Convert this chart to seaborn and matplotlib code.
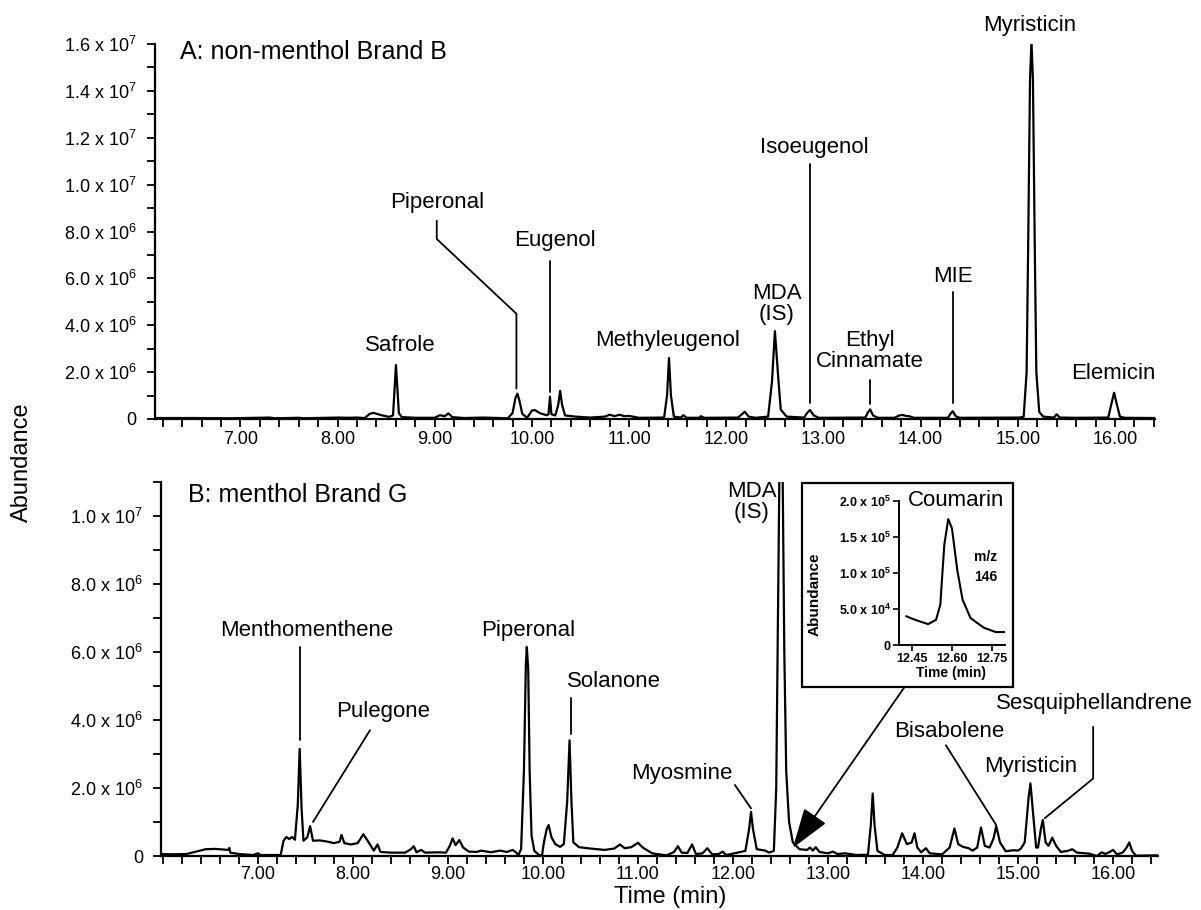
import pandas as pd
import seaborn as sns
import matplotlib.pyplot as plt
from matplotlib.patches import Rectangle
from matplotlib.ticker import MultipleLocator

sns.set_style("ticks")
plt.rcParams['font.family'] = ['Liberation Sans', 'DejaVu Sans']
plt.rcParams['mathtext.fontset'] = 'custom'
plt.rcParams['mathtext.rm'] = 'Liberation Sans'
plt.rcParams['mathtext.it'] = 'Liberation Sans:italic'
plt.rcParams['mathtext.bf'] = 'Liberation Sans:bold'
for key in ('text.color', 'axes.labelcolor', 'xtick.color', 'ytick.color', 'axes.edgecolor'):
    plt.rcParams[key] = 'black'

# --- panel A: non-menthol Brand B (time in min, abundance) ---
time_a = [6.12, 6.5, 6.9, 7.3, 7.35, 7.6, 7.65, 8.0, 8.1, 8.2, 8.28, 8.33, 8.37, 8.45, 8.53,
          8.57, 8.585, 8.60, 8.615, 8.63, 8.66, 8.8, 9.0, 9.05, 9.08, 9.10, 9.14, 9.18, 9.3, 9.5,
          9.75, 9.80, 9.83, 9.85, 9.87, 9.90, 9.95, 10.0, 10.03, 10.08, 10.15, 10.17, 10.185, 10.20,
          10.24, 10.27, 10.29, 10.31, 10.34, 10.45, 10.6, 10.75, 10.8, 10.85, 10.9, 10.95, 11.0,
          11.1, 11.36, 11.39, 11.41, 11.43, 11.46, 11.53, 11.56, 11.59, 11.72, 11.74, 11.77,
          12.12, 12.16, 12.19, 12.23, 12.3, 12.43, 12.47, 12.50, 12.53, 12.56, 12.62,
          12.8, 12.83, 12.86, 12.90, 12.95, 13.43, 13.46, 13.48, 13.51, 13.56,
          13.73, 13.78, 13.81, 13.85, 13.88, 13.93, 14.28, 14.31, 14.33, 14.36, 14.40,
          15.02, 15.06, 15.09, 15.105, 15.125, 15.14, 15.155, 15.175, 15.19, 15.22, 15.26,
          15.37, 15.40, 15.43, 15.6, 15.93, 15.96, 15.99, 16.02, 16.05, 16.1, 16.41]
abund_a = [4e4, 4e4, 3e4, 6e4, 3e4, 5e4, 3e4, 6e4, 5e4, 6e4, 4e4, 2.2e5, 2.6e5, 1.6e5, 9e4,
           1.5e5, 1.2e6, 2.3e6, 1.3e6, 2.5e5, 8e4, 5e4, 5e4, 1.6e5, 1.4e5, 1.1e5, 2.4e5, 8e4, 4e4, 6e4,
           3e4, 2.5e5, 9e5, 1.08e6, 8e5, 2.2e5, 5e4, 3.6e5, 3.8e5, 2.5e5, 1.6e5, 2e5, 9.5e5, 2e5,
           1.5e5, 6e5, 1.2e6, 6e5, 1.5e5, 1e5, 6e4, 1e5, 1.8e5, 1.2e5, 1.8e5, 1.2e5, 1.3e5,
           5e4, 6e4, 1.0e6, 2.6e6, 1.0e6, 1e5, 6e4, 1.6e5, 5e4, 5e4, 1.2e5, 5e4,
           6e4, 2e5, 3.1e5, 1e5, 5e4, 1e5, 1.6e6, 3.75e6, 2.0e6, 4e5, 1e5,
           6e4, 2.5e5, 3.8e5, 1.5e5, 5e4, 6e4, 3e5, 4.1e5, 1.5e5, 5e4,
           5e4, 1.5e5, 1.7e5, 1.3e5, 1.2e5, 5e4, 5e4, 2.4e5, 3.3e5, 1.2e5, 5e4,
           6e4, 1e5, 2.0e6, 7e6, 1.45e7, 1.61e7, 1.45e7, 7e6, 2.0e6, 3e5, 1e5,
           6e4, 2e5, 6e4, 5e4, 6e4, 6e5, 1.12e6, 6e5, 1e5, 5e4, 4e4]

# --- panel B: menthol Brand G ---
time_b = [5.97, 6.1, 6.25, 6.35, 6.45, 6.55, 6.69, 6.70, 6.71, 6.8, 6.95, 7.0, 7.03, 7.24,
          7.27, 7.30, 7.33, 7.36, 7.39, 7.42, 7.44, 7.46, 7.48, 7.52, 7.55, 7.58, 7.65, 7.72,
          7.80, 7.86, 7.88, 7.91, 7.98, 8.05, 8.11, 8.16, 8.22, 8.26, 8.29, 8.4, 8.55, 8.61,
          8.64, 8.67, 8.72, 8.76, 8.9, 8.98, 9.02, 9.05, 9.08, 9.12, 9.16, 9.22, 9.3, 9.35,
          9.45, 9.55, 9.62, 9.68, 9.72, 9.74, 9.77, 9.80, 9.82, 9.83, 9.845, 9.86, 9.88, 9.91,
          9.96, 9.99, 10.01, 10.04, 10.06, 10.09, 10.13, 10.18, 10.22, 10.255, 10.28, 10.30,
          10.32, 10.38, 10.5, 10.65, 10.75, 10.81, 10.86, 10.93, 11.0, 11.05, 11.15, 11.3,
          11.38, 11.42, 11.46, 11.52, 11.57, 11.61, 11.68, 11.73, 11.78, 11.85, 11.89, 11.93,
          12.05, 12.13, 12.17, 12.19, 12.21, 12.25, 12.34, 12.38, 12.43, 12.455, 12.48, 12.50,
          12.52, 12.54, 12.56, 12.59, 12.63, 12.70, 12.78, 12.81, 12.84, 12.87, 12.91, 13.0,
          13.05, 13.1, 13.18, 13.3, 13.42, 13.45, 13.47, 13.49, 13.52, 13.6, 13.68, 13.73,
          13.78, 13.83, 13.88, 13.91, 13.94, 13.98, 14.03, 14.07, 14.2, 14.28, 14.33, 14.37,
          14.42, 14.48, 14.52, 14.57, 14.61, 14.65, 14.70, 14.74, 14.77, 14.81, 14.87, 14.95,
          15.0, 15.03, 15.07, 15.11, 15.13, 15.15, 15.19, 15.21, 15.24, 15.26, 15.29, 15.32,
          15.36, 15.40, 15.45, 15.52, 15.57, 15.62, 15.75, 15.83, 15.88, 15.92, 15.97, 16.0,
          16.04, 16.1, 16.14, 16.17, 16.20, 16.24, 16.47]
abund_b = [6e4, 5e4, 6e4, 1.3e5, 2.0e5, 2.1e5, 1.8e5, 2.4e5, 1.0e5, 6e4, 3e4, 8e4, 3e4, 3e4,
           4.5e5, 5.6e5, 5.0e5, 5.6e5, 4.8e5, 1.5e6, 3.15e6, 1.4e6, 4.5e5, 5.5e5, 8.8e5, 4.5e5, 4.6e5, 4.3e5,
           3.8e5, 4.2e5, 6.2e5, 3.8e5, 3.4e5, 3.8e5, 6.4e5, 4.3e5, 1.6e5, 3.4e5, 1.2e5, 1.0e5, 1.0e5, 2.0e5,
           2.9e5, 1.1e5, 1.8e5, 1.0e5, 1.1e5, 1.0e5, 3e5, 5.2e5, 3.2e5, 4.7e5, 2.5e5, 1.3e5, 1.2e5, 1.6e5,
           1.1e5, 1.6e5, 1.2e5, 1.8e5, 1.0e5, 2e4, 2e5, 2.5e6, 5.6e6, 6.15e6, 5.5e6, 2.5e6, 6e5, 1.5e5,
           3e4, 1e4, 4e5, 8e5, 9.1e5, 5.5e5, 3.5e5, 2.7e5, 3.5e5, 1.6e6, 3.4e6, 1.6e6,
           4e5, 2.6e5, 2.2e5, 1.8e5, 2.2e5, 3.4e5, 2.3e5, 2.6e5, 3.9e5, 2.5e5, 8e4, 2e4,
           1.2e5, 2.9e5, 1.0e5, 9e4, 3.4e5, 6e4, 8e4, 2.3e5, 5e4, 6e4, 1.3e5, 3e4,
           1.0e5, 1.5e5, 8e5, 1.3e6, 8e5, 2e5, 1.6e5, 1.0e5, 1.5e5, 2e6, 9e6, 1.45e7,
           1.2e7, 6e6, 2.5e6, 1.0e6, 4e5, 2e5, 1.8e5, 2.5e5, 1.6e5, 2.6e5, 1.2e5, 8e4,
           1.3e5, 6e4, 8e4, 3e4, 4e4, 9e5, 1.84e6, 9e5, 1.5e5, 3e4, 3e4, 2.5e5,
           6.7e5, 3.5e5, 4e5, 6.7e5, 2.5e5, 1.1e5, 2.3e5, 8e4, 5e4, 2.5e5, 8.1e5, 3.5e5,
           2.7e5, 2.3e5, 1.6e5, 2.5e5, 8.4e5, 3e5, 2.5e5, 5e5, 8.8e5, 4e5, 1.4e5, 1.7e5,
           1.6e5, 2.2e5, 4e5, 1.7e6, 2.14e6, 1.5e6, 2.5e5, 2.5e5, 8e5, 1.06e6, 4e5, 3e5,
           5.4e5, 3e5, 1.2e5, 1.5e5, 2.0e5, 1.0e5, 7e4, 0, 1.1e5, 6e4, 1.3e5, 1.8e5,
           5e4, 1.0e5, 2.4e5, 4e5, 1.5e5, 1e4, 2e4]

# --- inset: coumarin, m/z 146 ---
time_c = [12.427, 12.461, 12.51, 12.54, 12.556, 12.571, 12.586, 12.60, 12.62, 12.64,
          12.67, 12.72, 12.765, 12.80]
abund_c = [4.0e4, 3.5e4, 2.9e4, 3.5e4, 5.6e4, 1.39e5, 1.75e5, 1.62e5, 1.04e5, 6.3e4,
           3.75e4, 2.4e4, 1.8e4, 1.8e4]

yticks_a = [0, 2e6, 4e6, 6e6, 8e6, 1e7, 1.2e7, 1.4e7, 1.6e7]
ylabels_a = ['0', r'2.0 x 10$^{6}$', r'4.0 x 10$^{6}$', r'6.0 x 10$^{6}$', r'8.0 x 10$^{6}$',
             r'1.0 x 10$^{7}$', r'1.2 x 10$^{7}$', r'1.4 x 10$^{7}$', r'1.6 x 10$^{7}$']
yticks_b = [0, 2e6, 4e6, 6e6, 8e6, 1e7]
ylabels_b = ylabels_a[:6]
xticks = [7, 8, 9, 10, 11, 12, 13, 14, 15, 16]
xlabels = ['%.2f' % t for t in xticks]
yticks_c = [0, 5e4, 1e5, 1.5e5, 2e5]
ylabels_c = ['0', r'5.0 x 10$^{\mathbf{4}}$', r'1.0 x 10$^{\mathbf{5}}$',
             r'1.5 x 10$^{\mathbf{5}}$', r'2.0 x 10$^{\mathbf{5}}$']
xticks_c = [12.45, 12.60, 12.75]
xlabels_c = ['12.45', '12.60', '12.75']

fig = plt.figure(figsize=(12.01, 9.10), dpi=100)
ax_a = fig.add_axes([0.129, 0.5396, 0.8326, 0.412])
ax_b = fig.add_axes([0.134, 0.0593, 0.830, 0.411])


def style_axis(ax, xlim, ylim, yt, yl, xpad):
    ax.set_xlim(*xlim)
    ax.set_ylim(*ylim)
    ax.set_xticks(xticks, xlabels)
    ax.set_yticks(yt, yl)
    ax.xaxis.set_minor_locator(MultipleLocator(0.2))
    ax.yaxis.set_minor_locator(MultipleLocator(1e6))
    ax.tick_params(which='both', direction='out', length=6, width=1.3, color='black')
    ax.tick_params(axis='x', labelsize=13, pad=xpad)
    ax.tick_params(axis='y', labelsize=13, pad=7)
    for s in ('top', 'right'):
        ax.spines[s].set_visible(False)
    for s in ('left', 'bottom'):
        ax.spines[s].set_linewidth(1.6)
        ax.spines[s].set_color('black')
    ax.set_xlabel('')
    ax.set_ylabel('')


sns.lineplot(x=time_a, y=abund_a, ax=ax_a, color='black', linewidth=1.6,
             estimator=None, sort=False)
sns.lineplot(x=time_b, y=abund_b, ax=ax_b, color='black', linewidth=1.6,
             estimator=None, sort=False)
style_axis(ax_a, (6.12, 16.41), (0, 1.6e7), yticks_a, ylabels_a, 3)
style_axis(ax_b, (5.98, 16.47), (0, 1.1e7), yticks_b, ylabels_b, 1)

lab = dict(fontsize=16, ha='center', va='center', linespacing=1.0)
ax_a.text(0.025, 0.979, 'A: non-menthol Brand B', transform=ax_a.transAxes,
          fontsize=18, va='center', ha='left')
ax_b.text(0.027, 0.965, 'B: menthol Brand G', transform=ax_b.transAxes,
          fontsize=18, va='center', ha='left')

# panel A labels and leader lines
ax_a.text(8.64, 3.15e6, 'Safrole', **lab)
ax_a.text(9.02, 9.24e6, 'Piperonal', **lab)
ax_a.plot([9.02, 9.02, 9.84, 9.84], [8.46e6, 7.68e6, 4.49e6, 1.3e6], color='black', lw=1.3)
ax_a.text(10.24, 7.6e6, 'Eugenol', **lab)
ax_a.plot([10.185, 10.185], [6.76e6, 1.16e6], color='black', lw=1.3)
ax_a.text(11.4, 3.36e6, 'Methyleugenol', **lab)
ax_a.text(12.52, 4.9e6, 'MDA\n(IS)', **lab)
ax_a.text(12.91, 1.158e7, 'Isoeugenol', **lab)
ax_a.plot([12.86, 12.86], [1.09e7, 6.9e5], color='black', lw=1.3)
ax_a.text(13.48, 2.9e6, 'Ethyl\nCinnamate', **lab)
ax_a.plot([13.48, 13.48], [1.66e6, 6.2e5], color='black', lw=1.3)
ax_a.text(14.33, 6.1e6, 'MIE', **lab)
ax_a.plot([14.33, 14.33], [5.4e6, 6.7e5], color='black', lw=1.3)
ax_a.text(15.12, 1.68e7, 'Myristicin', **lab)
ax_a.text(15.98, 1.94e6, 'Elemicin', **lab)

# panel B labels and leader lines
ax_b.text(7.51, 6.63e6, 'Menthomenthene', **lab)
ax_b.plot([7.44, 7.44], [6.16e6, 3.41e6], color='black', lw=1.3)
ax_b.text(8.32, 4.25e6, 'Pulegone', **lab)
ax_b.plot([8.18, 7.58], [3.7e6, 1.0e6], color='black', lw=1.3)
ax_b.text(9.85, 6.63e6, 'Piperonal', **lab)
ax_b.text(10.75, 5.13e6, 'Solanone', **lab)
ax_b.plot([10.30, 10.30], [4.64e6, 3.6e6], color='black', lw=1.3)
ax_b.text(11.46, 2.43e6, 'Myosmine', **lab)
ax_b.plot([12.02, 12.19], [2.09e6, 1.4e6], color='black', lw=1.3)
ax_b.text(12.2, 1.04e7, 'MDA\n(IS)', **lab)
ax_b.text(14.28, 3.66e6, 'Bisabolene', **lab)
ax_b.plot([14.24, 14.77], [3.26e6, 9.1e5], color='black', lw=1.3)
ax_b.text(15.13, 2.63e6, 'Myristicin', **lab)
ax_b.text(15.8, 4.49e6, 'Sesquiphellandrene', **lab)
ax_b.plot([15.79, 15.79, 15.28], [3.8e6, 2.28e6, 1.11e6], color='black', lw=1.3)

ax_b.annotate('', xy=(12.63, 2.4e5), xytext=(13.81, 4.99e6),
              arrowprops=dict(arrowstyle='-|>,head_length=0.9,head_width=0.3',
                              mutation_scale=28, lw=1.3, color='black',
                              shrinkA=0, shrinkB=0))

# inset box and axes
fig.patches.append(Rectangle((0.6678, 0.245), 0.1757, 0.2242, transform=fig.transFigure,
                             facecolor='white', edgecolor='black', lw=1.6, zorder=5))
ax_c = fig.add_axes([0.7485, 0.2912, 0.0883, 0.1582], zorder=6)
ax_c.patch.set_alpha(0)
sns.lineplot(x=time_c, y=abund_c, ax=ax_c, color='black', linewidth=1.5,
             estimator=None, sort=False)
ax_c.set_xlim(12.40, 12.80)
ax_c.set_ylim(0, 2e5)
ax_c.set_xticks(xticks_c, xlabels_c)
ax_c.set_yticks(yticks_c, ylabels_c)
ax_c.tick_params(which='both', direction='out', length=4, width=1.2, labelsize=9, pad=2)
for t in ax_c.get_xticklabels() + ax_c.get_yticklabels():
    t.set_fontweight('bold')
for s in ('top', 'right'):
    ax_c.spines[s].set_visible(False)
for s in ('left', 'bottom'):
    ax_c.spines[s].set_linewidth(1.4)
    ax_c.spines[s].set_color('black')
ax_c.set_xlabel('')
ax_c.set_ylabel('')
fig.text(956 / 1201, 1 - 500 / 910, 'Coumarin', fontsize=16, ha='center', va='center', zorder=7)
fig.text(986 / 1201, 1 - 567 / 910, 'm/z\n146', fontsize=10, fontweight='bold',
         ha='center', va='center', linespacing=1.6, zorder=7)
fig.text(815 / 1201, 1 - 594 / 910, 'Abundance', fontsize=11, fontweight='bold',
         rotation=90, ha='center', va='center', zorder=7)
fig.text(951 / 1201, 1 - 673 / 910, 'Time (min)', fontsize=10, fontweight='bold',
         ha='center', va='center', zorder=7)

fig.text(22 / 1201, 1 - 462 / 910, 'Abundance', fontsize=17, rotation=90,
         ha='center', va='center')
fig.text(670 / 1201, 1 - 897 / 910, 'Time (min)', fontsize=17, ha='center', va='center')

fig.savefig('out.png', dpi=100, facecolor='white')
